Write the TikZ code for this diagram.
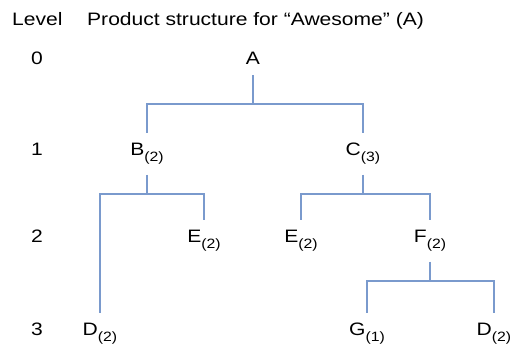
\documentclass[tikz,border=0pt]{standalone}
\usepackage{fontspec}
\setmainfont[FakeStretch=1.17]{Liberation Sans}
\definecolor{linkblue}{RGB}{122,154,205}
\newcommand\howmany[1]{\raisebox{-6pt}{\fontsize{13.5}{13.5}\selectfont(#1)}}
\tikzset{
  part/.style={anchor=base,inner xsep=0pt,inner ysep=10pt,font=\fontsize{18}{20}\selectfont},
  lvl/.style={anchor=base,inner sep=0pt,font=\fontsize{18}{20}\selectfont},
  link/.style={draw=linkblue,line width=2pt}
}
\begin{document}
\begin{tikzpicture}[x=1pt,y=-1pt]
\useasboundingbox (0,0) rectangle (512,347);
\node[lvl,anchor=base west] (level) at (12,26) {Level};
\node[lvl,anchor=base west] (title) at (87,26) {Product structure for “Awesome” (A)};
% level numbers
\node[lvl] (l0) at (37,65) {0};
\node[lvl] (l1) at (37,156) {1};
\node[lvl] (l2) at (37,243) {2};
\node[lvl] (l3) at (37,336) {3};
% parts
\node[part] (A) at (253,65) {A};
\node[part] (B) at (147,156) {B\howmany{2}};
\node[part] (C) at (363,156) {C\howmany{3}};
\node[part] (E1) at (204,243) {E\howmany{2}};
\node[part] (E2) at (301,243) {E\howmany{2}};
\node[part] (F) at (430,243) {F\howmany{2}};
\node[part] (D1) at (100,336) {D\howmany{2}};
\node[part] (G) at (367,336) {G\howmany{1}};
\node[part] (D2) at (494,336) {D\howmany{2}};
% tree
\draw[link] (A.south) -- ++(0,29) -| (B.north);
\draw[link] (A.south) -- ++(0,29) -| (C.north);
\draw[link] (B.south) -- ++(0,19) -| (D1.north);
\draw[link] (B.south) -- ++(0,19) -| (E1.north);
\draw[link] (C.south) -- ++(0,19) -| (E2.north);
\draw[link] (C.south) -- ++(0,19) -| (F.north);
\draw[link] (F.south) -- ++(0,19) -| (G.north);
\draw[link] (F.south) -- ++(0,19) -| (D2.north);
\end{tikzpicture}
\end{document}
